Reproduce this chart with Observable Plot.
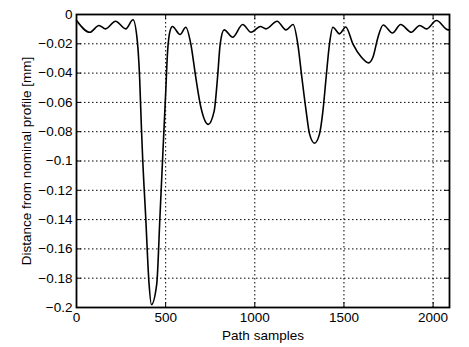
<!DOCTYPE html>
<html><head><meta charset="utf-8">
<script src="https://cdn.jsdelivr.net/npm/d3@7"></script>
<script src="https://cdn.jsdelivr.net/npm/@observablehq/plot@0.6"></script>
<style>body{margin:0;background:#fff}</style>
</head><body><div id="chart"></div>
<script>
const sampleX = [0,75,126,163,219,276,317,341,354,364,371,388,407,420,450,468,485,500,510,525,538,581,613,641,669,697,739,772,791,806,828,876,932,979,1031,1063,1125,1175,1215,1241,1264,1288,1307,1335,1363,1382,1400,1419,1438,1475,1510,1550,1597,1638,1663,1691,1720,1772,1818,1878,1925,1963,2019,2085,2092];
const distance = [-0.0041,-0.0121,-0.0075,-0.0098,-0.0046,-0.0098,-0.0036,-0.018,-0.043,-0.077,-0.098,-0.138,-0.184,-0.198,-0.184,-0.138,-0.093,-0.054,-0.027,-0.011,-0.0082,-0.0137,-0.0087,-0.020,-0.043,-0.063,-0.075,-0.066,-0.043,-0.020,-0.0105,-0.0155,-0.0068,-0.0121,-0.0082,-0.0098,-0.0046,-0.0105,-0.0068,-0.020,-0.043,-0.066,-0.0815,-0.0879,-0.0815,-0.066,-0.043,-0.020,-0.0087,-0.0132,-0.0085,-0.020,-0.029,-0.033,-0.029,-0.0155,-0.0072,-0.0126,-0.0068,-0.0121,-0.0075,-0.0098,-0.0041,-0.0105,-0.0102];
const xTicks = [0,500,1000,1500,2000];
const yTicks = [0,-0.02,-0.04,-0.06,-0.08,-0.1,-0.12,-0.14,-0.16,-0.18,-0.2];
const xLabel = "Path samples";
const yLabel = "Distance from nominal profile [mm]";

const data = sampleX.map((x, i) => ({x, y: distance[i]}));
const W = 469, H = 347, mL = 76, mR = 20, mT = 14, mB = 40;
const innerW = W - mL - mR, innerH = H - mT - mB;
const tick = 5;
const fmtX = d => String(d);
const fmtY = d => d === 0 ? "0" : "\u2212" + String(+Math.abs(d).toFixed(2));
const inner = (arr, lo, hi) => arr.filter(d => d !== lo && d !== hi);

const chart = Plot.plot({
  width: W, height: H,
  marginLeft: mL, marginRight: mR, marginTop: mT, marginBottom: mB,
  style: {fontFamily: "'Liberation Sans', Arial, sans-serif", fontSize: "13.5px", color: "#000", background: "#fff"},
  x: {domain: [0, 2092]},
  y: {domain: [-0.2, 0]},
  marks: [
    Plot.gridX(inner(xTicks, 0, 2092), {stroke: "#000", strokeOpacity: 1, strokeWidth: 1, strokeDasharray: "1.5,2.5"}),
    Plot.gridY(inner(yTicks, 0, -0.2), {stroke: "#000", strokeOpacity: 1, strokeWidth: 1, strokeDasharray: "1.5,2.5"}),
    Plot.ruleX(xTicks, {x: d => d, insetTop: innerH - tick, stroke: "#000"}),
    Plot.ruleX(xTicks, {x: d => d, insetBottom: innerH - tick, stroke: "#000"}),
    Plot.ruleY(yTicks, {y: d => d, insetRight: innerW - tick, stroke: "#000"}),
    Plot.ruleY(yTicks, {y: d => d, insetLeft: innerW - tick, stroke: "#000"}),
    Plot.axisX(xTicks, {tickSize: 0, tickPadding: 5, tickFormat: fmtX, label: xLabel, labelAnchor: "center", labelOffset: 32, labelArrow: "none"}),
    Plot.axisY(yTicks, {tickSize: 0, tickPadding: 4, tickFormat: fmtY, label: yLabel, labelAnchor: "center", labelOffset: 55, labelArrow: "none"}),
    Plot.line(data, {x: "x", y: "y", curve: "monotone-x", stroke: "#000", strokeWidth: 1.6}),
    Plot.frame({stroke: "#000", strokeWidth: 1.8})
  ]
});
document.getElementById("chart").append(chart);
</script>
</body></html>
